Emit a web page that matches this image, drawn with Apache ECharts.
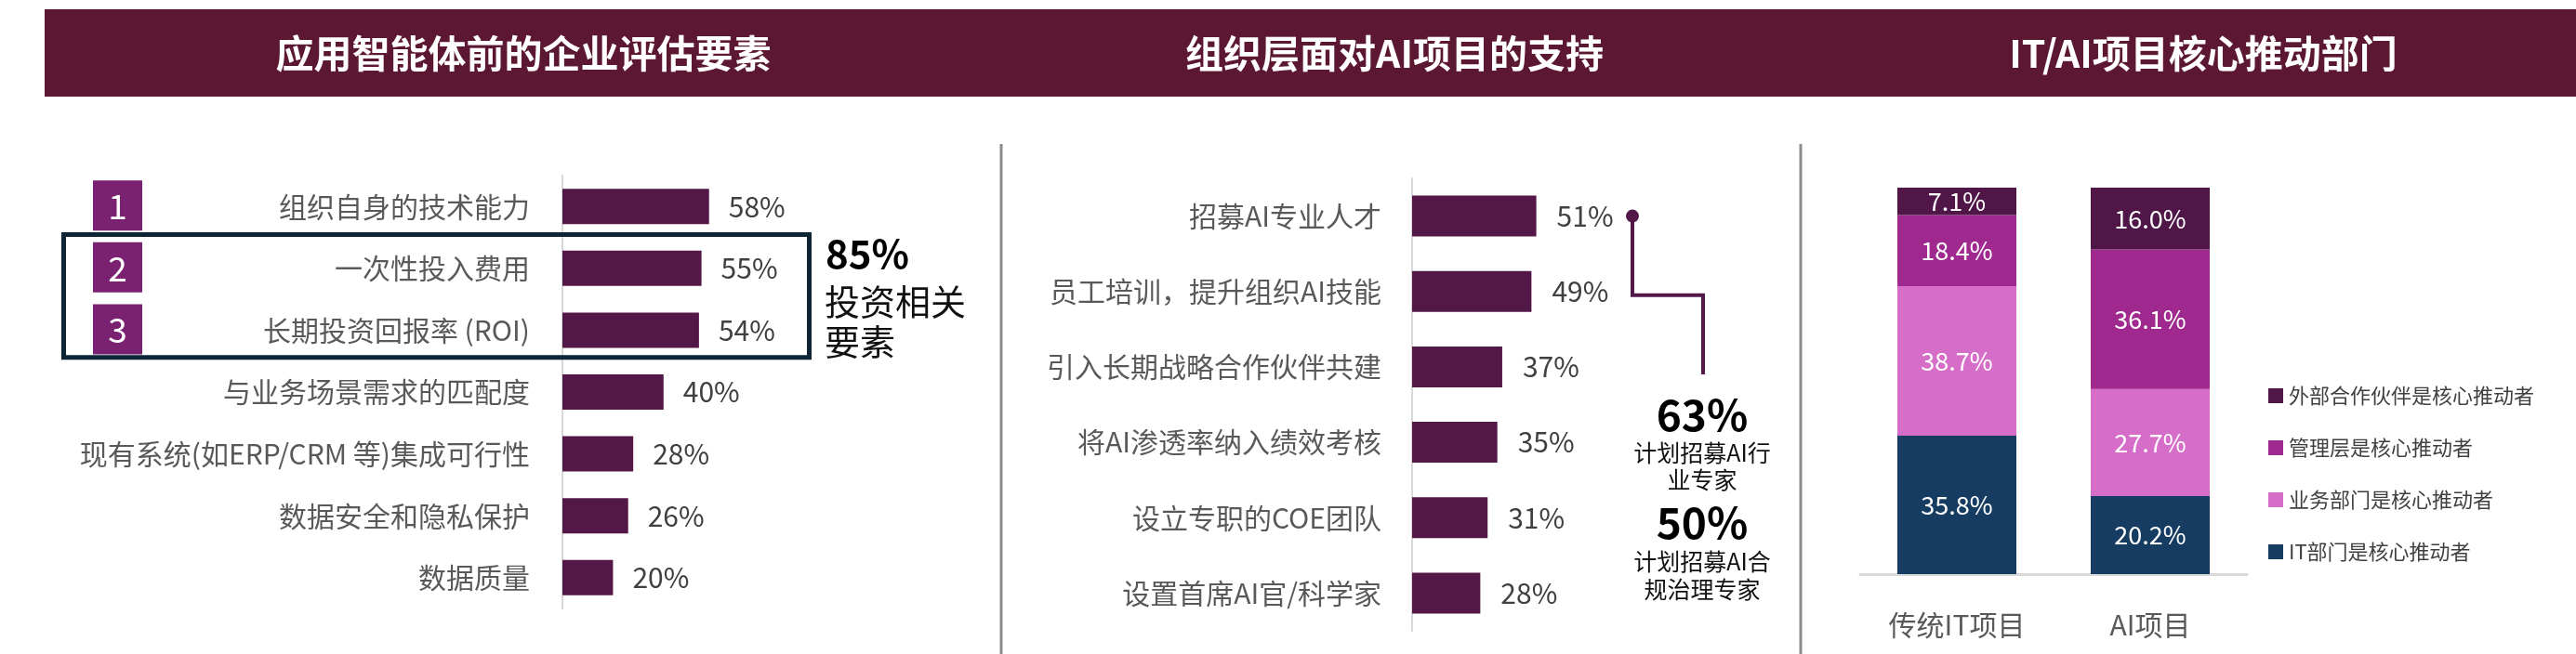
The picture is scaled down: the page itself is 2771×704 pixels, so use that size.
<!DOCTYPE html>
<html>
<head>
<meta charset="utf-8">
<script src="https://cdn.jsdelivr.net/npm/echarts@6/dist/echarts.min.js"></script>
<style>
html,body{margin:0;padding:0;background:#fff;}
#main{width:2771px;height:704px;}
</style>
</head>
<body>
<div id="main"></div>
<script>
// ---------- data ----------
const titles = ['应用智能体前的企业评估要素', '组织层面对AI项目的支持', 'IT/AI项目核心推动部门'];

const factorCats = ['组织自身的技术能力', '一次性投入费用', '长期投资回报率 (ROI)', '与业务场景需求的匹配度', '现有系统(如ERP/CRM 等)集成可行性', '数据安全和隐私保护', '数据质量'];
const factorVals = [58, 55, 54, 40, 28, 26, 20];
const rankLabels = ['1', '2', '3'];
const investNote = ['85%', '投资相关', '要素'];

const supportCats = ['招募AI专业人才', '员工培训，提升组织AI技能', '引入长期战略合作伙伴共建', '将AI渗透率纳入绩效考核', '设立专职的COE团队', '设置首席AI官/科学家'];
const supportVals = [51, 49, 37, 35, 31, 28];
const hireNote1 = ['63%', '计划招募AI行', '业专家'];
const hireNote2 = ['50%', '计划招募AI合', '规治理专家'];

const projCats = ['传统IT项目', 'AI项目'];
const seriesNames = ['IT部门是核心推动者', '业务部门是核心推动者', '管理层是核心推动者', '外部合作伙伴是核心推动者'];
const itDept = [35.8, 20.2];
const bizDept = [38.7, 27.7];
const mgmt = [18.4, 36.1];
const external = [7.1, 16.0];

// ---------- styles ----------
const FONT = '"Noto Sans CJK SC", "Noto Sans", sans-serif';
const BAR = '#541848';
const HEADER = '#5C1732';
const segColors = ['#173C62', '#D66DC8', '#A0298F', '#4F1647'];

const chart = echarts.init(document.getElementById('main'), null, {renderer: 'canvas'});

const headerCenters = [563, 1500, 2370];

const option = {
  backgroundColor: '#fff',
  textStyle: {fontFamily: FONT},
  animation: false,
  grid: [
    {left: 605, top: 189, width: 272, height: 466, containLabel: false},
    {left: 1519, top: 192, width: 262, height: 487, containLabel: false},
    {left: 2001, top: 202, width: 416, height: 416, containLabel: false}
  ],
  xAxis: [
    {gridIndex: 0, type: 'value', min: 0, max: 100, show: false},
    {gridIndex: 1, type: 'value', min: 0, max: 100, show: false},
    {gridIndex: 2, type: 'category', data: projCats,
     axisLine: {lineStyle: {color: '#d9d9d9', width: 3}},
     axisTick: {show: false},
     axisLabel: {fontSize: 30, color: '#595959', margin: 40, fontFamily: FONT}}
  ],
  yAxis: [
    {gridIndex: 0, type: 'category', inverse: true, data: factorCats,
     axisLine: {lineStyle: {color: '#d9d9d9', width: 2}},
     axisTick: {show: false},
     axisLabel: {fontSize: 30, color: '#595959', margin: 35, fontFamily: FONT}},
    {gridIndex: 1, type: 'category', inverse: true, data: supportCats,
     axisLine: {lineStyle: {color: '#d9d9d9', width: 2}},
     axisTick: {show: false},
     axisLabel: {fontSize: 30, color: '#595959', margin: 33, fontFamily: FONT}},
    {gridIndex: 2, type: 'value', min: 0, max: 100, show: false}
  ],
  legend: {
    orient: 'vertical',
    left: 2435,
    top: 410,
    data: seriesNames.slice().reverse(),
    icon: 'rect',
    itemWidth: 16,
    itemHeight: 16,
    itemGap: 34,
    textStyle: {fontSize: 22, color: '#404040', fontFamily: FONT, padding: [0, 0, 0, 1]},
    selectedMode: false
  },
  series: [
    {type: 'bar', xAxisIndex: 0, yAxisIndex: 0, data: factorVals, barWidth: 38,
     itemStyle: {color: BAR},
     label: {show: true, position: 'right', distance: 21, formatter: '{c}%', fontSize: 30, color: '#404040', fontFamily: FONT}},
    {type: 'bar', xAxisIndex: 1, yAxisIndex: 1, data: supportVals, barWidth: 44,
     itemStyle: {color: BAR},
     label: {show: true, position: 'right', distance: 22, formatter: '{c}%', fontSize: 30, color: '#404040', fontFamily: FONT}}
  ].concat([itDept, bizDept, mgmt, external].map((arr, i) => ({
    type: 'bar', name: seriesNames[i], xAxisIndex: 2, yAxisIndex: 2, stack: 'proj',
    data: arr, barWidth: 128,
    itemStyle: {color: segColors[i]},
    label: {show: true, position: 'inside', color: '#fff', fontSize: 27, fontFamily: FONT,
            formatter: p => p.value.toFixed(1) + '%'}
  })))
};

chart.setOption(option);

// ---------- decorations anchored to the axes ----------
function txt(text, x, y, font, fill, align) {
  return {type: 'text', silent: true, z: 100,
    style: {text: text, x: x, y: y, font: font, fill: fill,
            align: align || 'center', verticalAlign: 'middle',
            textAlign: align || 'center', textVerticalAlign: 'middle'}};
}

const g = [];
// header band
g.push({type: 'rect', silent: true, z: 50, shape: {x: 48, y: 10, width: 2723, height: 94}, style: {fill: HEADER}});
titles.forEach((t, i) => g.push(txt(t, headerCenters[i], 57, 'bold 41px ' + FONT, '#fff')));
// separators
[1077, 1937].forEach(x => g.push({type: 'line', silent: true, z: 50,
  shape: {x1: x, y1: 155, x2: x, y2: 704}, style: {stroke: '#8c8c8c', lineWidth: 3}}));

// panel 1: rank boxes and highlight rectangle
const band1 = 466 / factorCats.length;
const cy1 = i => chart.convertToPixel({yAxisIndex: 0}, factorCats[i]);
rankLabels.forEach((r, i) => {
  const cy = cy1(i) - 1;
  g.push({type: 'rect', silent: true, z: 60, shape: {x: 100, y: cy - 27, width: 53, height: 54}, style: {fill: '#7A2171'}});
  g.push(txt(r, 126.5, cy + 1, '37px ' + FONT, '#fff'));
});
const rTop = cy1(1) - band1 / 2 - 3;
const rBot = cy1(2) + band1 / 2 - 4;
g.push({type: 'rect', silent: true, z: 60, shape: {x: 68.5, y: rTop, width: 802, height: rBot - rTop},
  style: {fill: 'none', stroke: '#0E2536', lineWidth: 5}});
g.push(txt(investNote[0], 888, 273, 'bold 42px ' + FONT, '#000', 'left'));
g.push(txt(investNote[1], 887, 325, '38px ' + FONT, '#111', 'left'));
g.push(txt(investNote[2], 887, 368, '38px ' + FONT, '#111', 'left'));

// panel 2: connector and notes
const cy2 = i => chart.convertToPixel({yAxisIndex: 1}, supportCats[i]);
const y0 = cy2(0), y1 = cy2(1) + 4, y2 = cy2(2) + 8;
g.push({type: 'polyline', silent: true, z: 60,
  shape: {points: [[1756, y0], [1756, y1], [1832, y1], [1832, y2]]},
  style: {stroke: BAR, lineWidth: 4, fill: 'none'}});
g.push({type: 'circle', silent: true, z: 61, shape: {cx: 1756, cy: y0, r: 7}, style: {fill: BAR}});
g.push(txt(hireNote1[0], 1831, 447, 'bold 46px ' + FONT, '#000'));
g.push(txt(hireNote1[1], 1831, 487, '25px ' + FONT, '#111'));
g.push(txt(hireNote1[2], 1831, 516, '25px ' + FONT, '#111'));
g.push(txt(hireNote2[0], 1831, 563, 'bold 46px ' + FONT, '#000'));
g.push(txt(hireNote2[1], 1831, 604, '25px ' + FONT, '#111'));
g.push(txt(hireNote2[2], 1831, 634, '25px ' + FONT, '#111'));

chart.setOption({graphic: g});
</script>
</body>
</html>
